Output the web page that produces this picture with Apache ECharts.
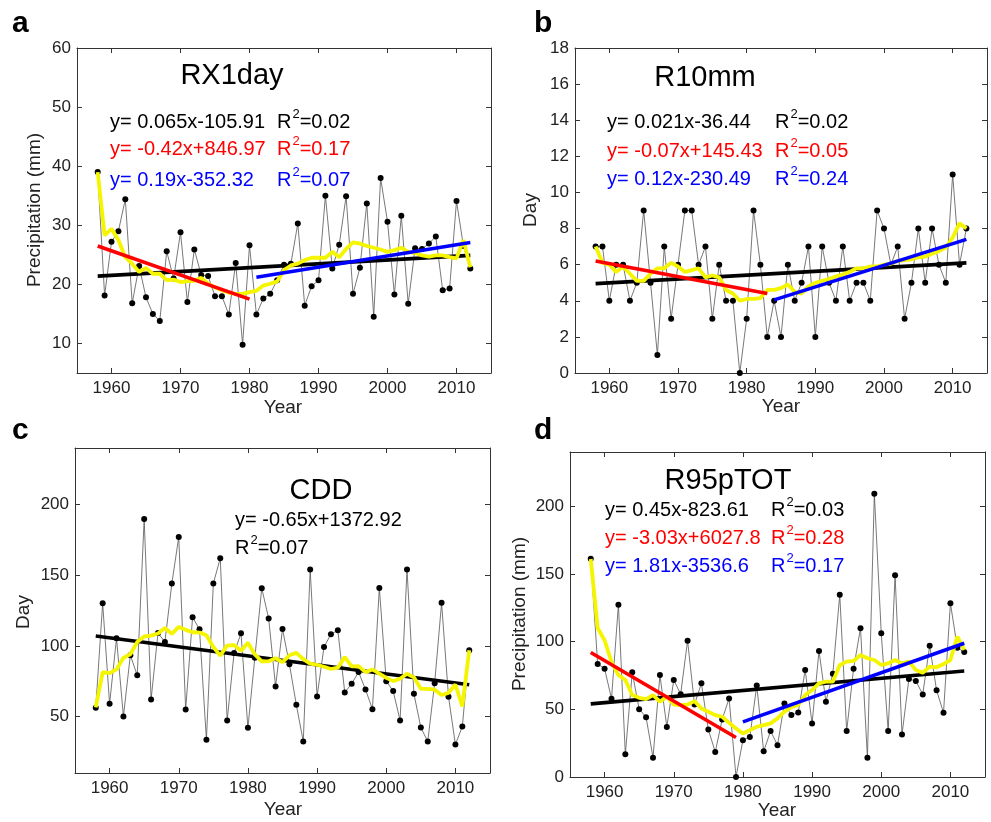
<!DOCTYPE html>
<html>
<head>
<meta charset="utf-8">
<script src="https://cdn.jsdelivr.net/npm/echarts@6/dist/echarts.min.js"></script>
<style>
html,body{margin:0;padding:0;background:#fff;}
#chart{width:991px;height:822px;}
</style>
</head>
<body>
<div id="chart"></div>
<script>
// ---------- data ----------
const years = [1958,1959,1960,1961,1962,1963,1964,1965,1966,1967,1968,1969,1970,1971,1972,1973,1974,1975,1976,1977,1978,1979,1980,1981,1982,1983,1984,1985,1986,1987,1988,1989,1990,1991,1992,1993,1994,1995,1996,1997,1998,1999,2000,2001,2002,2003,2004,2005,2006,2007,2008,2009,2010,2011,2012];

const xTicks = [1960,1970,1980,1990,2000,2010];
const aYTicks = [10,20,30,40,50,60];
const bYTicks = [0,2,4,6,8,10,12,14,16,18];
const cYTicks = [50,100,150,200];
const dYTicks = [0,50,100,150,200];

// a: RX1day
const aValues = [39.0,18.1,27.2,29.0,34.4,16.8,23.1,17.8,15.0,13.8,25.6,21.0,28.8,17.0,25.9,21.6,21.4,18.0,18.0,14.9,23.6,9.8,26.6,14.9,17.6,18.4,20.7,23.3,23.5,30.3,16.4,19.7,20.7,35.0,22.7,26.7,34.9,18.4,22.8,33.7,14.5,38.0,30.6,18.3,31.6,16.7,26.1,26.0,26.9,28.1,19.0,19.3,34.1,26.5,22.7];
const aSmooth = [39.0,28.3,29.4,27.5,24.6,23.5,22.1,22.8,21.8,21.8,20.7,20.8,20.4,20.5,20.6,21.1,20.1,19.5,19.0,18.6,18.4,18.4,18.7,18.9,19.8,20.1,20.5,22.4,23.2,23.5,24.1,24.5,24.5,24.5,25.5,24.6,26.0,27.1,26.9,26.5,26.2,25.9,25.5,25.8,26.2,25.5,25.3,24.9,24.7,24.9,24.9,24.6,24.4,27.5,22.9];
const aTrendAll = [[1958,21.4],[2012,24.9]];
const aTrendEarly = [[1958,26.5],[1980,17.5]];
const aTrendLate = [[1981,21.2],[2012,27.1]];

// b: R10mm
const bValues = [7,7,4,6,6,4,5,9,5,1,7,3,6,9,9,6,7,3,6,4,4,0,3,9,6,2,4,2,6,4,5,7,2,7,5,4,7,4,5,5,4,9,8,6,7,3,5,8,5,8,6,5,11,6,8];
const bSmooth = [7.0,6.1,6.0,5.6,5.9,5.5,5.1,5.1,5.5,5.8,5.8,6.1,5.9,5.6,5.7,5.8,5.3,5.4,5.3,4.6,4.4,4.0,4.1,4.1,4.15,4.6,4.6,4.7,4.9,4.5,4.4,4.8,5.0,5.1,5.2,5.35,5.45,5.6,5.8,5.8,5.9,5.9,6.0,6.05,6.2,6.25,6.3,6.4,6.45,6.6,6.75,6.95,7.5,8.3,8.0];
const bTrendAll = [[1958,4.95],[2012,6.1]];
const bTrendEarly = [[1958,6.2],[1983,4.4]];
const bTrendLate = [[1984,4.05],[2012,7.4]];

// c: CDD
const cValues = [56.2,130.1,59,105.3,50,93.3,79.1,189.7,62,109.1,102.7,144.1,177,55,120.2,111.7,33.5,144.1,162,47.2,94.9,108.9,42,91.6,140.8,119.3,71.3,111.9,86.9,58.3,32.3,154,64.2,99.2,108.2,111,67,73.2,81.4,69.1,55.2,141,75,68,47.2,154,66.1,42.2,32.3,73.6,130.4,64,30.1,42.9,96.8];
const cSmooth = [56.4,81.4,80.7,83.3,91.5,94,102.7,106.6,107.2,108.7,112.6,108.5,113.4,111.3,109.6,109.4,107.5,99.2,93.1,100.2,100.5,96.5,102.2,93.9,89,89.1,91.2,88.5,93.3,95,90.6,87.4,86.6,85.2,83.6,84.5,92,85.5,85.6,81.4,83.3,80.3,77.3,75,76.7,80.2,77.7,69.6,69.6,69,65.2,66.7,72.6,57.2,96.8];
const cTrendAll = [[1958,107],[2012,72.5]];

// d: R95pTOT
const dValues = [161.2,83.5,80,57.8,127.2,16.8,77.3,50.1,44.2,14.3,75.3,37,71.6,61.2,100.7,53.6,69.2,35,18.5,42.5,58,0,27.2,29.6,67.5,19,33.9,23.5,54.3,45.7,47.7,79,39.5,93.1,55.6,76.3,134.6,33.9,80,109.9,14.3,209.2,106.2,33.9,148.9,31.4,72.4,70.9,61,97,64,47.4,128.4,95.4,92.3];
const dSmooth = [161,110,101,85,75.3,71.6,60.5,58.5,57.5,60.5,55.6,59.5,53.5,53,53.5,56,50.6,48.2,45.7,44.5,40,35.8,32.1,34.6,37.1,38.3,39.6,43.3,48.2,51.5,53.2,60.5,64.2,69.2,70.4,70.4,82.7,85.2,85.7,90.1,87.7,86.4,82.7,83.9,86.4,83.9,85.2,79,77,81.5,81,83.4,86.4,103.7,93.8];
const dTrendAll = [[1958,54],[2012,78.3]];
const dTrendEarly = [[1958,91.9],[1979,29.2]];
const dTrendLate = [[1980,40.7],[2012,98.8]];

// ---------- chart ----------
const FONT = 'Liberation Sans, Arial, sans-serif';
const AX = '#333';
const grids = [
  {left:77, top:48, width:414, height:325},
  {left:575, top:48, width:412, height:325},
  {left:75, top:448, width:415, height:325},
  {left:570, top:452, width:415, height:325}
];
const yRanges = [[5,60,aYTicks],[0,18,bYTicks],[10,240,cYTicks],[0,240,dYTicks]];

const xAxes = [], yAxes = [];
[false,true].forEach(function(secondary){
  grids.forEach(function(g,i){
    xAxes.push({
      type:'value', gridIndex:i, min:1955, max:2015, position: secondary?'top':'bottom',
      axisLine:{show:true, onZero:false, lineStyle:{color:AX, width:1}},
      axisTick:{show:true, inside:true, length:5, customValues:xTicks, lineStyle:{color:AX}},
      axisLabel:{show:!secondary, customValues:xTicks, formatter:function(v){return String(v);}, fontSize:17, fontFamily:FONT, color:'#222', margin:7},
      splitLine:{show:false}
    });
    const r = yRanges[i];
    yAxes.push({
      type:'value', gridIndex:i, min:r[0], max:r[1], position: secondary?'right':'left',
      axisLine:{show:true, onZero:false, lineStyle:{color:AX, width:1}},
      axisTick:{show:true, inside:true, length:5, customValues:r[2], lineStyle:{color:AX}},
      axisLabel:{show:!secondary, customValues:r[2], fontSize:17, fontFamily:FONT, color:'#222', margin:6},
      splitLine:{show:false}
    });
  });
});

function pairs(vals){ return years.map(function(y,i){ return [y, vals[i]]; }); }
function dataSeries(i, vals){
  return {type:'line', xAxisIndex:i, yAxisIndex:i, data:pairs(vals), symbol:'circle', symbolSize:6,
    showSymbol:true, lineStyle:{color:'#555', width:0.8}, itemStyle:{color:'#000'}, silent:true, z:2};
}
function smoothSeries(i, vals){
  return {type:'line', xAxisIndex:i, yAxisIndex:i, data:pairs(vals), showSymbol:false, symbol:'none',
    lineStyle:{color:'#f5f500', width:3.8}, silent:true, z:4};
}
function trend(i, pts, color, z){
  return {type:'line', xAxisIndex:i, yAxisIndex:i, data:pts, showSymbol:false, symbol:'none',
    lineStyle:{color:color, width:3.6}, silent:true, z:z};
}

const series = [
  dataSeries(0,aValues), trend(0,aTrendAll,'#000',3), smoothSeries(0,aSmooth), trend(0,aTrendEarly,'#ff0000',5), trend(0,aTrendLate,'#0000ff',5),
  dataSeries(1,bValues), trend(1,bTrendAll,'#000',3), smoothSeries(1,bSmooth), trend(1,bTrendEarly,'#ff0000',5), trend(1,bTrendLate,'#0000ff',5),
  dataSeries(2,cValues), trend(2,cTrendAll,'#000',3), smoothSeries(2,cSmooth),
  dataSeries(3,dValues), trend(3,dTrendAll,'#000',3), smoothSeries(3,dSmooth), trend(3,dTrendEarly,'#ff0000',5), trend(3,dTrendLate,'#0000ff',5)
];

function T(x, y, text, size, color, opts){
  opts = opts || {};
  const st = {text:text, x:0, y:0, fill:color, font:(opts.bold?'bold ':'')+size+'px '+FONT,
    align:opts.align||'left', textAlign:opts.align||'left', verticalAlign:'middle', textVerticalAlign:'middle'};
  return {type:'text', x:x, y:y, rotation:opts.rot||0, style:st, z:10, silent:true};
}
function R2(x, y, val, color){
  return {type:'text', x:x, y:y, z:10, silent:true, style:{
    text:'{n|R}{s|2}{n|='+val+'}', x:0, y:0, verticalAlign:'middle', textVerticalAlign:'middle',
    rich:{
      n:{fontSize:20, fontFamily:FONT, fill:color, color:color, lineHeight:24, verticalAlign:'bottom'},
      s:{fontSize:13, fontFamily:FONT, fill:color, color:color, lineHeight:24, verticalAlign:'top', padding:[0,0,0,1]}
    }}};
}

const graphics = [
  // panel letters
  T(12,24,'a',30,'#000',{bold:true}), T(534,24,'b',30,'#000',{bold:true}),
  T(12,431,'c',30,'#000',{bold:true}), T(534,431,'d',30,'#000',{bold:true}),
  // titles
  T(232,76,'RX1day',29,'#000',{align:'center'}),
  T(705,78,'R10mm',29,'#000',{align:'center'}),
  T(321,491,'CDD',29,'#000',{align:'center'}),
  T(728,481,'R95pTOT',29,'#000',{align:'center'}),
  // a equations
  T(110,122,'y= 0.065x-105.91',20,'#000'), R2(277,120,'0.02','#000'),
  T(110,149,'y= -0.42x+846.97',20,'#ff0000'), R2(277,147,'0.17','#ff0000'),
  T(110,180,'y= 0.19x-352.32',20,'#0000ff'), R2(277,178,'0.07','#0000ff'),
  // b equations
  T(607,122,'y= 0.021x-36.44',20,'#000'), R2(775,120,'0.02','#000'),
  T(607,151,'y= -0.07x+145.43',20,'#ff0000'), R2(775,149,'0.05','#ff0000'),
  T(607,179,'y= 0.12x-230.49',20,'#0000ff'), R2(775,177,'0.24','#0000ff'),
  // c equations
  T(235,520,'y= -0.65x+1372.92',20,'#000'), R2(235,546,'0.07','#000'),
  // d equations
  T(605,510,'y= 0.45x-823.61',20,'#000'), R2(771,508,'0.03','#000'),
  T(605,538,'y= -3.03x+6027.8',20,'#ff0000'), R2(771,536,'0.28','#ff0000'),
  T(605,566,'y= 1.81x-3536.6',20,'#0000ff'), R2(771,564,'0.17','#0000ff'),
  // axis names
  T(35,210,'Precipitation (mm)',19,'#222',{align:'center',rot:Math.PI/2}),
  T(531,210,'Day',19,'#222',{align:'center',rot:Math.PI/2}),
  T(24,612,'Day',19,'#222',{align:'center',rot:Math.PI/2}),
  T(520,614,'Precipitation (mm)',19,'#222',{align:'center',rot:Math.PI/2}),
  T(283,408,'Year',19,'#222',{align:'center'}),
  T(781,407,'Year',19,'#222',{align:'center'}),
  T(283,810,'Year',19,'#222',{align:'center'}),
  T(777,811,'Year',19,'#222',{align:'center'})
];

const chart = echarts.init(document.getElementById('chart'), null, {renderer:'canvas'});
chart.setOption({
  animation:false,
  backgroundColor:'#fff',
  grid:grids,
  xAxis:xAxes,
  yAxis:yAxes,
  series:series,
  graphic:graphics
});
</script>
</body>
</html>
